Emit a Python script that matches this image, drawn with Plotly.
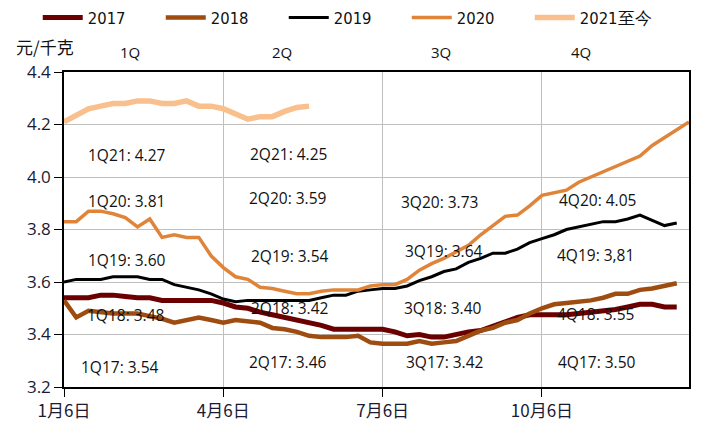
import plotly.graph_objects as go

weeks = list(range(52))
tick_vals = [0, 13, 26, 39]
tick_text = ["1月6日", "4月6日", "7月6日", "10月6日"]

y2017 = [3.54, 3.54, 3.54, 3.55, 3.55, 3.545, 3.54, 3.54, 3.53, 3.53, 3.53, 3.53, 3.53, 3.52,
         3.505, 3.50, 3.485, 3.475, 3.465, 3.455, 3.445, 3.435, 3.42, 3.42, 3.42, 3.42, 3.42,
         3.41, 3.395, 3.40, 3.39, 3.39, 3.40, 3.41, 3.415, 3.43, 3.45, 3.465, 3.475, 3.475,
         3.475, 3.475, 3.48, 3.485, 3.49, 3.495, 3.505, 3.515, 3.515, 3.505, 3.505]
y2018 = [3.53, 3.465, 3.49, 3.485, 3.48, 3.48, 3.48, 3.47, 3.46, 3.445, 3.455, 3.465, 3.455, 3.445,
         3.455, 3.45, 3.445, 3.425, 3.42, 3.41, 3.395, 3.39, 3.39, 3.39, 3.395, 3.37, 3.365,
         3.365, 3.365, 3.375, 3.365, 3.37, 3.375, 3.395, 3.415, 3.425, 3.445, 3.455, 3.48, 3.50,
         3.515, 3.52, 3.525, 3.53, 3.54, 3.555, 3.555, 3.57, 3.575, 3.585, 3.595]
y2019 = [3.60, 3.61, 3.61, 3.61, 3.62, 3.62, 3.62, 3.61, 3.61, 3.59, 3.58, 3.57, 3.555, 3.535,
         3.525, 3.53, 3.53, 3.53, 3.53, 3.53, 3.53, 3.54, 3.55, 3.55, 3.565, 3.57, 3.575,
         3.575, 3.585, 3.605, 3.62, 3.64, 3.65, 3.675, 3.69, 3.71, 3.71, 3.725, 3.75, 3.765,
         3.78, 3.80, 3.81, 3.82, 3.83, 3.83, 3.84, 3.855, 3.835, 3.815, 3.825]
y2020 = [3.83, 3.83, 3.87, 3.87, 3.86, 3.845, 3.81, 3.84, 3.77, 3.78, 3.77, 3.77, 3.70, 3.655,
         3.62, 3.61, 3.58, 3.575, 3.565, 3.555, 3.555, 3.565, 3.57, 3.57, 3.57, 3.585, 3.59,
         3.59, 3.61, 3.645, 3.67, 3.69, 3.715, 3.74, 3.78, 3.815, 3.85, 3.855, 3.89, 3.93,
         3.94, 3.95, 3.98, 4.00, 4.02, 4.04, 4.06, 4.08, 4.12, 4.15, 4.18, 4.21]
y2021 = [4.21, 4.235, 4.26, 4.27, 4.28, 4.28, 4.29, 4.29, 4.28, 4.28, 4.29, 4.27, 4.27, 4.26,
         4.24, 4.22, 4.23, 4.23, 4.25, 4.265, 4.27]

series_names = ["2017", "2018", "2019", "2020", "2021至今"]
series_values = [y2017, y2018, y2019, y2020, y2021]
colors = ["#6B0000", "#9E4C10", "#000000", "#E0843A", "#F9C08D"]
widths = [5, 4.5, 3, 3.5, 5.5]

# quarter average labels: text, week position, value position
q_labels = ["1Q21: 4.27", "1Q20: 3.81", "1Q19: 3.60", "1Q18: 3.48", "1Q17: 3.54",
            "2Q21: 4.25", "2Q20: 3.59", "2Q19: 3.54", "2Q18: 3.42", "2Q17: 3.46",
            "3Q20: 3.73", "3Q19: 3.64", "3Q18: 3.40", "3Q17: 3.42",
            "4Q20: 4.05", "4Q19: 3,81", "4Q18: 3.55", "4Q17: 3.50"]
q_label_x = [5.14, 5.14, 5.14, 5.05, 4.6,
             18.3, 18.25, 18.45, 18.45, 18.3,
             30.6, 31.0, 30.95, 31.1,
             43.5, 43.4, 43.35, 43.5]
q_label_y = [4.085, 3.907, 3.684, 3.474, 3.278,
             4.087, 3.919, 3.70, 3.502, 3.294,
             3.903, 3.72, 3.502, 3.294,
             3.912, 3.704, 3.478, 3.294]
quarters = ["1Q", "2Q", "3Q", "4Q"]
quarter_x = [5.4, 17.8, 30.8, 42.2]

fig = go.Figure()
for name, vals, c, w in zip(series_names, series_values, colors, widths):
    fig.add_trace(go.Scatter(x=weeks[:len(vals)], y=vals, mode="lines", name=name,
                             line=dict(color=c, width=w)))

for t, x, y in zip(q_labels, q_label_x, q_label_y):
    fig.add_annotation(x=x, y=y, text=t, showarrow=False, xref="x", yref="y",
                       font=dict(size=15.5, color="#111111", family="Open Sans"))

for t, x in zip(quarters, quarter_x):
    fig.add_annotation(x=x, y=1.065, xref="x", yref="paper", text=t, showarrow=False,
                       yanchor="middle", xanchor="center",
                       font=dict(size=15, color="#111111", family="Open Sans"))

fig.add_annotation(xref="paper", yref="paper", x=-0.08, y=1.082, text="元/千克",
                   showarrow=False, xanchor="left", yanchor="middle",
                   font=dict(size=17, color="#111111", family="Noto Sans CJK SC"))

# page has an 8px default body margin, so the figure is 8px smaller and margins shifted
fig.update_layout(
    width=711, height=430,
    margin=dict(l=56, r=30, t=64, b=51, autoexpand=False),
    paper_bgcolor="white", plot_bgcolor="white",
    showlegend=True,
    legend=dict(orientation="h", x=-0.042, y=1.172, xanchor="left", yanchor="middle",
                font=dict(size=16.5, color="#111111",
                          family="DejaVu Sans Condensed, Liberation Sans Narrow, Liberation Sans"),
                entrywidth=68, itemwidth=40, bgcolor="rgba(0,0,0,0)", tracegroupgap=0),
    xaxis=dict(range=[0, 51], tickvals=tick_vals, ticktext=tick_text,
               showgrid=True, gridcolor="#BFBFBF", gridwidth=1,
               showline=True, linecolor="black", linewidth=1.5, mirror=True,
               ticks="outside", ticklen=8, tickcolor="black",
               tickfont=dict(size=17, color="#1a1a33", family="Noto Sans CJK SC"),
               zeroline=False),
    yaxis=dict(range=[3.2, 4.4], tickvals=[3.2, 3.4, 3.6, 3.8, 4.0, 4.2, 4.4],
               ticktext=["3.2", "3.4", "3.6", "3.8", "4.0", "4.2", "4.4"],
               showgrid=True, gridcolor="#BFBFBF", gridwidth=1,
               showline=True, linecolor="black", linewidth=1.5, mirror=True,
               ticks="outside", ticklen=8, tickcolor="black",
               tickfont=dict(size=17, color="#1a1a33", family="Open Sans"),
               zeroline=False),
)

fig.write_html("out.html")
